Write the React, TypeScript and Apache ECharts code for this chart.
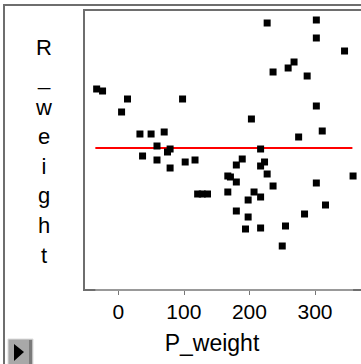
import React, { useEffect, useRef } from "react";
import * as echarts from "echarts";

const pWeight = [
  -33, -24, 14, 5, 98, 33, 50, 70, 59, 79, 75, 37, 59, 79, 102, 117,
  121, 128, 136,
  167, 171, 180, 167, 180, 189, 203, 217, 217, 223, 227, 236, 207, 198, 217,
  180, 198, 194, 217, 255, 250, 284, 316, 302, 358, 275, 311, 302, 288, 268,
  259, 236, 227, 302, 302, 345,
];
const rWeight = [
  202, 200, 192, 179, 192, 157, 157, 159, 145, 142, 139, 135, 131, 123, 129, 131,
  97, 97, 97,
  115, 114, 109, 99, 126, 132, 172, 142, 125, 129, 117, 105, 99, 91, 94,
  80, 74, 62, 63, 65, 45, 77, 86, 108, 115, 154, 160, 185, 215, 229,
  223, 219, 268, 271, 253, 240,
];
const meanR = 143;
const meanLineX = [-35, 357];
const axisLineX = [-35, 358];
const xTicks = [0, 100, 200, 300];
const xTitle = "P_weight";
const yTitle = "R_weight";

const FONT = '"Liberation Sans", Arial, Helvetica, sans-serif';

export default function App() {
  const ref = useRef<HTMLDivElement>(null);
  useEffect(() => {
    document.body.style.margin = "0";
    const chart = echarts.init(ref.current!, null, { renderer: "svg" });
    const points = pWeight.map((x, i) => [x, rWeight[i]]);
    chart.setOption({
      animation: false,
      backgroundColor: "#ffffff",
      grid: { left: 84, top: 10, right: 0, height: 280, containLabel: false },
      xAxis: {
        type: "value",
        min: -52.3,
        max: 370.1,
        splitLine: { show: false },
        axisLine: { show: false },
        axisTick: {
          show: true,
          customValues: xTicks,
          length: 5,
          lineStyle: { color: "#777", width: 1 },
        },
        axisLabel: {
          customValues: xTicks,
          color: "#000",
          fontSize: 21,
          fontFamily: FONT,
          margin: 11,
        },
      },
      yAxis: { type: "value", min: 1, max: 281, show: false },
      graphic: [
        {
          type: "rect",
          z: -1,
          silent: true,
          shape: { x: 4, y: 5, width: 420, height: 420 },
          style: { fill: "none", stroke: "#6e6e6e", lineWidth: 2 },
        },
        {
          type: "rect",
          z: -1,
          silent: true,
          shape: { x: 84, y: 10, width: 400, height: 280 },
          style: { fill: "none", stroke: "#6e6e6e", lineWidth: 2 },
        },
        {
          type: "text",
          silent: true,
          style: {
            text: yTitle.split("").join("\n"),
            x: 44,
            y: 33,
            align: "center",
            verticalAlign: "top",
            lineHeight: 29.6,
            fontSize: 22,
            fontFamily: FONT,
            fill: "#000",
          },
        },
        {
          type: "text",
          silent: true,
          style: {
            text: xTitle,
            x: 212,
            y: 343,
            align: "center",
            verticalAlign: "middle",
            fontSize: 23,
            fontFamily: FONT,
            fill: "#000",
          },
        },
        {
          type: "rect",
          silent: true,
          shape: { x: 8, y: 339, width: 25, height: 26 },
          style: { fill: "#a8a8a8", stroke: "#dcdcdc", lineWidth: 1 },
        },
        {
          type: "rect",
          silent: true,
          shape: { x: 29, y: 340, width: 3, height: 24 },
          style: { fill: "#7a7a7a" },
        },
        {
          type: "polygon",
          silent: true,
          shape: { points: [[14, 344], [24, 352], [14, 361]] },
          style: { fill: "#000" },
        },
      ],
      series: [
        {
          type: "line",
          data: [[axisLineX[0], 1], [axisLineX[1], 1]],
          symbol: "none",
          silent: true,
          lineStyle: { color: "#999", width: 2 },
          z: 1,
        },
        {
          type: "line",
          data: [[meanLineX[0], meanR], [meanLineX[1], meanR]],
          symbol: "none",
          silent: true,
          lineStyle: { color: "#ff0000", width: 2 },
          z: 2,
        },
        {
          type: "scatter",
          data: points,
          symbol: "rect",
          symbolSize: 7,
          itemStyle: { color: "#000", opacity: 1 },
          silent: true,
          z: 3,
        },
      ],
    });
    return () => chart.dispose();
  }, []);
  return <div ref={ref} style={{ width: 361, height: 364 }} />;
}
